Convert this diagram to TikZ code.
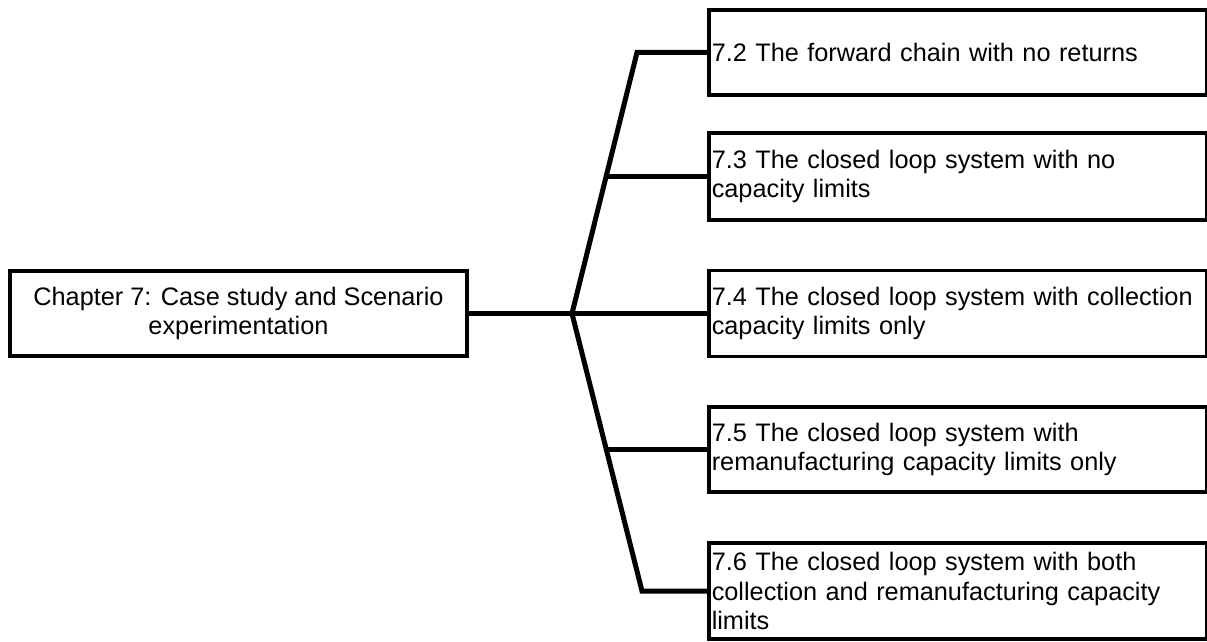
\documentclass[tikz,border=0pt]{standalone}
\usepackage{fontspec}
\setmainfont{Liberation Sans}
\begin{document}
\begin{tikzpicture}[x=1pt, y=-1pt,
  box/.style={draw, line width=3.5pt, inner sep=3pt,
    font=\fontsize{25.3}{29.5}\selectfont},
  sect/.style={box, anchor=west, minimum width=498pt, text width=492pt, align=left},
  link/.style={line width=5pt}]
\useasboundingbox (0,0) rectangle (1207,642);

% chapter box
\node[box, minimum width=457pt, minimum height=85pt, align=center] (ch) at (238.5,313.5)
  {Chapter 7: Case study and Scenario\\experimentation};

% section boxes
\node[sect, minimum height=85pt] (b1) at (707,52.5) {7.2 The forward chain with no returns};
\node[sect, minimum height=87pt] (b2) at (707,176.5) {7.3 The closed loop system with no\\capacity limits};
\node[sect, minimum height=86pt] (b3) at (707,313.5) {7.4 The closed loop system with collection\\capacity limits only};
\node[sect, minimum height=85pt] (b4) at (707,449.5) {7.5 The closed loop system with\\remanufacturing capacity limits only};
\node[sect, minimum height=96pt] (b5) at (707,591) {7.6 The closed loop system with both\\collection and remanufacturing capacity\\limits};

% bracket connectors
\coordinate (J) at (572,313.5);
\coordinate (T) at (637,52.5);
\coordinate (B) at (642,591);
\coordinate (u2) at (605.5,176.5);
\coordinate (d4) at (606,449.5);

\draw[link] (ch.east) -- (J) -- (b3.west);
\draw[link] (J) -- (T) -- (b1.west);
\draw[link] (J) -- (B) -- (b5.west);
\draw[link] (u2) -- (b2.west);
\draw[link] (d4) -- (b4.west);
\end{tikzpicture}
\end{document}
